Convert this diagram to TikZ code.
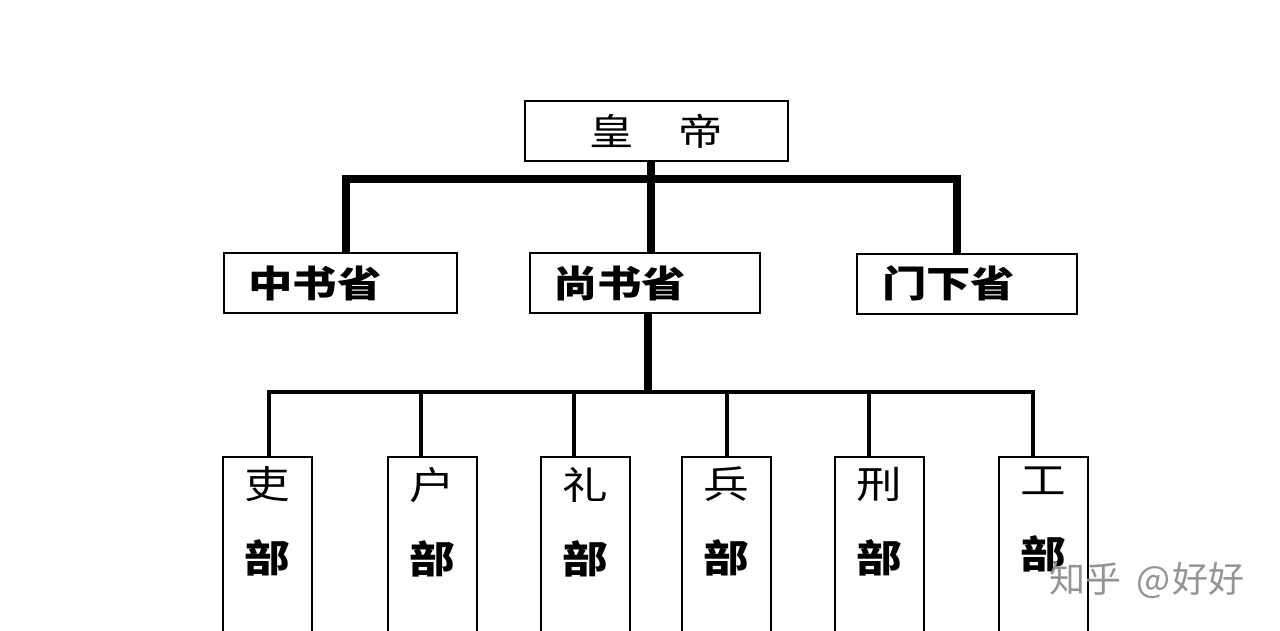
\documentclass[tikz,border=0pt]{standalone}
\usepackage{fontspec}
\newfontfamily\cjk[FakeStretch=1.2]{Noto Sans CJK SC}
\newfontfamily\cjkw{Noto Sans CJK SC}
\tikzset{
  box/.style={draw=black, line width=2pt, fill=white, inner sep=0pt},
  topbox/.style={box, minimum width=263pt, minimum height=60pt, font=\cjk\fontsize{37}{37}\selectfont},
  midbox/.style={box, minimum height=60pt, align=left, inner xsep=25pt, font=\cjk\bfseries\fontsize{37}{37}\selectfont},
  lowbox/.style={box, anchor=north, font=\cjk\fontsize{38}{74}\selectfont},
  bar/.style={line width=8pt},
  subbar/.style={line width=4.5pt},
  wmark/.style={font=\cjkw\fontsize{36}{36}\selectfont, text=black!42}
}
\newcommand{\bu}[1]{\parbox[t][230pt][t]{89pt}{\centering\vspace*{10pt}#1\\{\bfseries 部}}}
\begin{document}
\begin{tikzpicture}[x=1pt,y=-1pt]
\fill[white] (0,0) rectangle (1280,630);
\clip (0,0) rectangle (1280,630);
\useasboundingbox (0,0) rectangle (1280,630);

% nodes
\node[topbox] (emp) at (656.5,131) {皇　帝};
\node[midbox, text width=183pt] (zhong) at (340,283) {中书省};
\node[midbox, text width=184pt, inner xsep=23pt] (shang) at (645,283) {尚书省};
\node[midbox, text width=170pt] (men) at (967,283.5) {门下省};

\node[lowbox] (li)   at (267.5,456) {\bu{吏}};
\node[lowbox] (hu)   at (432,456)   {\bu{户}};
\node[lowbox] (lii)  at (585,456)   {\bu{礼}};
\node[lowbox] (bing) at (726,456)   {\bu{兵}};
\node[lowbox] (xing) at (879,456)   {\bu{刑}};
\node[lowbox] (gong) at (1043,456)  {\bu{工}};

% connector points
\coordinate (t)  at (651,179);
\coordinate (tl) at (346,179);
\coordinate (tr) at (957,179);
\coordinate (m)  at (648,392);
\coordinate (c1) at (269,392);
\coordinate (c2) at (421,392);
\coordinate (c3) at (574,392);
\coordinate (c4) at (727,392);
\coordinate (c5) at (869,392);
\coordinate (c6) at (1033,392);

% upper connectors
\draw[bar] (emp.south -| t) -- (shang.north -| t);
\draw[bar] (zhong.north -| tl) -- (tl) -- (tr) -- (men.north -| tr);

% lower connectors
\draw[bar] (shang.south -| m) -- (m);
\draw[subbar] (li.north -| c1) -- (c1) -- (c6) -- (gong.north -| c6);
\draw[subbar] (c2) -- (hu.north -| c2);
\draw[subbar] (c3) -- (lii.north -| c3);
\draw[subbar] (c4) -- (bing.north -| c4);
\draw[subbar] (c5) -- (xing.north -| c5);

% watermark
\node[wmark] (wm) at (1147,580) {知乎\hspace{15pt}@\hspace{2pt}好好};
\end{tikzpicture}
\end{document}
